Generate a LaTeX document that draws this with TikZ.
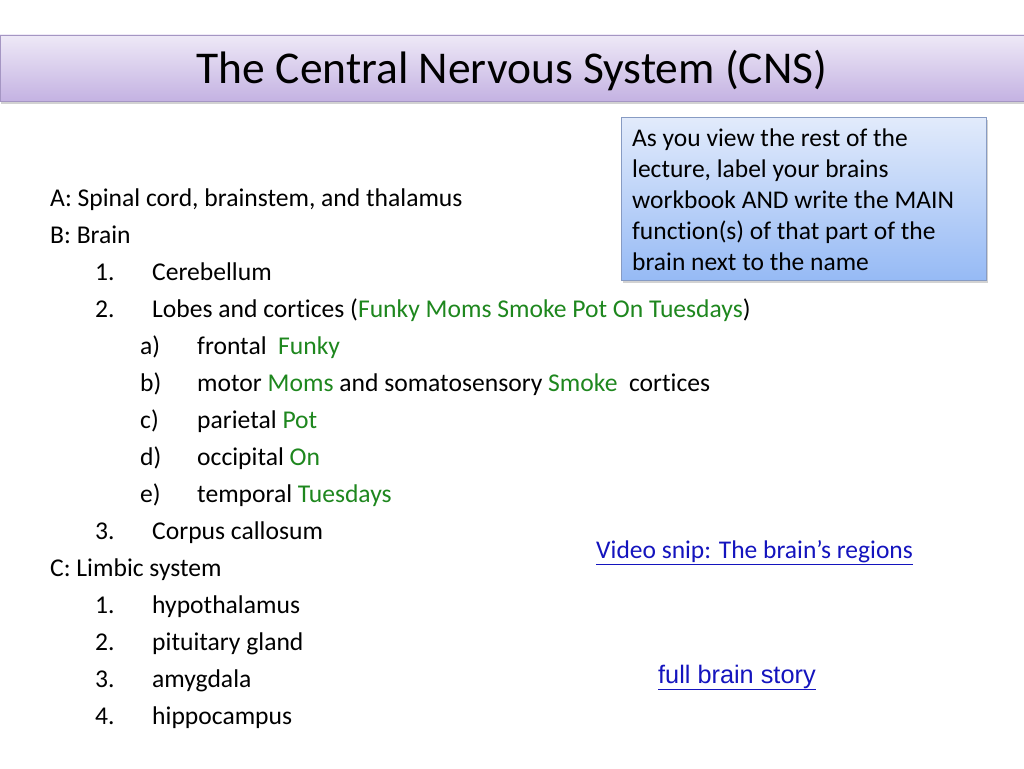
\documentclass[tikz,border=0pt]{standalone}
\usepackage{fontspec}
\setmainfont[Ligatures=NoCommon]{Carlito}
\newfontfamily\arialfont{Liberation Sans}
\usetikzlibrary{shadows}
\definecolor{lobegreen}{RGB}{30,135,30}
\definecolor{linkblue}{RGB}{20,20,190}
\definecolor{bartop}{RGB}{238,233,247}
\definecolor{barbottom}{RGB}{196,178,226}
\definecolor{barline}{RGB}{165,150,195}
\definecolor{boxtop}{RGB}{226,235,251}
\definecolor{boxbottom}{RGB}{150,186,245}
\definecolor{boxline}{RGB}{135,155,195}
\tikzset{
  listtext/.style={anchor=base west, inner sep=0pt, font=\fontsize{25.6}{30}\selectfont},
  linktext/.style={anchor=base west, inner sep=0pt, text=linkblue}
}
\begin{document}
\begin{tikzpicture}[x=1pt,y=1pt,yscale=-1,xscale=1]
\useasboundingbox (0,0) rectangle (1024,768);
\fill[white] (0,0) rectangle (1024,768);

%Shape: Rectangle [title bar]
\draw [barline, top color=bartop, bottom color=barbottom, drop shadow={opacity=0.35, shadow xshift=1pt, shadow yshift=-3pt}] (0,35) rectangle (1024,101);
%Shape: Rectangle [note box]
\draw [boxline, top color=boxtop, bottom color=boxbottom, drop shadow={opacity=0.35, shadow xshift=2pt, shadow yshift=-3pt}] (621,117) rectangle (986,280);

% Text Node
\node (title) [anchor=base, inner sep=0pt, font=\fontsize{45.5}{50}\selectfont] at (512,83) {The Central Nervous System (CNS)};
% Text Node
\node (note) [anchor=north west, inner sep=0pt, align=left, font=\fontsize{25.5}{30.8}\selectfont] at (632,129) {As you view the rest of the\\lecture, label your brains\\workbook AND write the MAIN\\function(s) of that part of the\\brain next to the name};

% Text Node
\node (partA) [listtext] at (50,206) {A: Spinal cord, brainstem, and thalamus};
% Text Node
\node (partB) [listtext] at (50,243) {B: Brain};
% Text Node
\node (numBa) [listtext] at (95,280) {1.};
\node (cerebellum) [listtext] at (152,280) {Cerebellum};
% Text Node
\node (numBb) [listtext] at (95,317) {2.};
\node (lobes) [listtext] at (152,317) {Lobes and cortices (\textcolor{lobegreen}{Funky Moms Smoke Pot On Tuesdays})};
% Text Node
\node (letA) [listtext] at (140,354) {a)};
\node (frontal) [listtext] at (197,354) {frontal\ \ \textcolor{lobegreen}{Funky}};
% Text Node
\node (letB) [listtext] at (140,391) {b)};
\node (motor) [listtext] at (197,391) {motor \textcolor{lobegreen}{Moms} and somatosensory \textcolor{lobegreen}{Smoke}\ \ cortices};
% Text Node
\node (letC) [listtext] at (140,428) {c)};
\node (parietal) [listtext] at (197,428) {parietal \textcolor{lobegreen}{Pot}};
% Text Node
\node (letD) [listtext] at (140,465) {d)};
\node (occipital) [listtext] at (197,465) {occipital \textcolor{lobegreen}{On}};
% Text Node
\node (letE) [listtext] at (140,502) {e)};
\node (temporal) [listtext] at (197,502) {temporal \textcolor{lobegreen}{Tuesdays}};
% Text Node
\node (numBc) [listtext] at (95,539) {3.};
\node (corpus) [listtext] at (152,539) {Corpus callosum};
% Text Node
\node (partC) [listtext] at (50,576) {C: Limbic system};
% Text Node
\node (numCa) [listtext] at (95,613) {1.};
\node (hypo) [listtext] at (152,613) {hypothalamus};
% Text Node
\node (numCb) [listtext] at (95,650) {2.};
\node (pituitary) [listtext] at (152,650) {pituitary gland};
% Text Node
\node (numCc) [listtext] at (95,687) {3.};
\node (amygdala) [listtext] at (152,687) {amygdala};
% Text Node
\node (numCd) [listtext] at (95,724) {4.};
\node (hippo) [listtext] at (152,724) {hippocampus};

% Text Node
\node (videosnip) [linktext, font=\fontsize{25.5}{30}\selectfont] at (596,558) {\underline{Video snip: The brain’s regions}};
% Text Node
\node (story) [linktext, font=\arialfont\fontsize{25.3}{30}\selectfont] at (658,683) {\underline{full brain story}};

\end{tikzpicture}
\end{document}
